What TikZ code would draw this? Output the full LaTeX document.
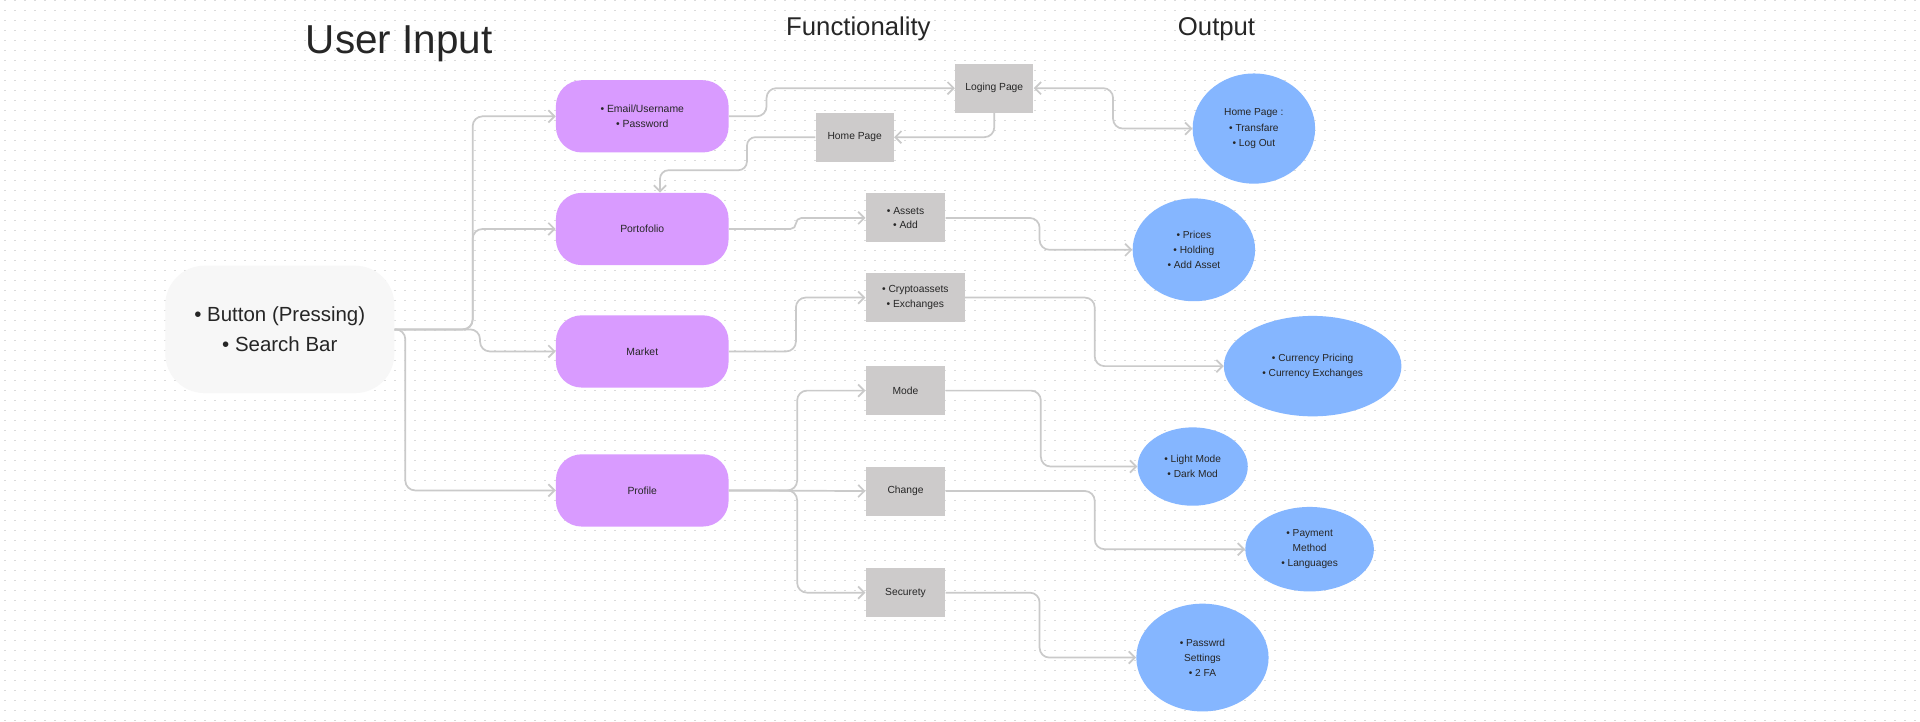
\documentclass[tikz,border=0pt]{standalone}
\usepackage{fontspec}
\setmainfont{Liberation Sans}
\usepackage{xcolor}
\usepackage{tikz}
\usetikzlibrary{calc}
\usetikzlibrary{arrows.meta}
\usetikzlibrary{shapes}
\usetikzlibrary{positioning}
\usetikzlibrary{shapes.geometric}
\definecolor{lilac}{HTML}{D99BFF}
\definecolor{sky}{HTML}{85B6FF}
\definecolor{boxgray}{HTML}{CDCBCB}
\definecolor{pale}{HTML}{F7F7F7}
\definecolor{wire}{HTML}{CACACA}
\definecolor{ink}{HTML}{262626}
\definecolor{dotgray}{HTML}{DBDBDB}
\tikzset{>={Straight Barb[length=5pt,width=10pt]}}
\tikzstyle{inp} = [rectangle, rounded corners=32pt, fill=pale, minimum width=187pt, minimum height=104pt, align=center, text=ink, font=\fontsize{16.7}{24.5}\selectfont]
\tikzstyle{feat} = [rectangle, rounded corners=21pt, fill=lilac, minimum width=141pt, minimum height=59pt, align=center, text=ink, font=\fontsize{8.5}{12}\selectfont]
\tikzstyle{page} = [rectangle, fill=boxgray, minimum width=65pt, minimum height=40pt, align=center, text=ink, font=\fontsize{8.4}{12}\selectfont]
\tikzstyle{res} = [ellipse, fill=sky, inner sep=0pt, align=center, text=ink, font=\fontsize{8.3}{12.3}\selectfont]
\tikzstyle{link} = [->, draw=wire, line width=1.4pt, rounded corners=8pt]
\tikzstyle{head} = [anchor=base, text=ink]

\begin{document}
\begin{tikzpicture}[x=1pt, y=-1pt]
\fill [white] (0,0) rectangle (1568,589.6);
\useasboundingbox (0,0) rectangle (1568,589.6);
\foreach \k in {0,...,72}
  \draw [dotgray, line width=0.7pt, dash pattern=on 1.6pt off 6.5667pt, dash phase=4.8667pt] (0,{\k*8.1667}) -- (1568,{\k*8.1667});

\node [head, font=\fontsize{33}{40}\selectfont] (title) at (326,43.5) {User Input};
\node [head, font=\fontsize{21}{25}\selectfont] (fhead) at (701,28.6) {Functionality};
\node [head, font=\fontsize{21}{25}\selectfont] (ohead) at (993.5,28.6) {Output};

\node [inp] (btn) at (228.5,269) {• Button (Pressing)\\• Search Bar};

\node [feat] (email) at (524.5,95) {• Email/Username\\• Password};
\node [feat] (port) at (524.5,187) {Portofolio};
\node [feat] (market) at (524.5,287) {Market};
\node [feat] (profile) at (524.5,400.5) {Profile};

\node [page, minimum width=64pt] (loging) at (812,72) {Loging Page};
\node [page, minimum width=64pt] (home) at (698,112) {Home Page};
\node [page] (assets) at (739.5,178) {• Assets\\• Add};
\node [page, minimum width=81pt] (crypto) at (747.5,243) {• Cryptoassets\\• Exchanges};
\node [page] (mode) at (739.5,319) {Mode};
\node [page] (change) at (739.5,401) {Change};
\node [page] (secure) at (739.5,484) {Securety};

\node [res, minimum width=100pt, minimum height=90pt] (hp) at (1024,105) {Home Page :\\• Transfare\\• Log Out};
\node [res, minimum width=100pt, minimum height=84pt] (prices) at (975,204) {• Prices\\• Holding\\• Add Asset};
\node [res, minimum width=145pt, minimum height=82pt] (curr) at (1072,299) {• Currency Pricing\\• Currency Exchanges};
\node [res, minimum width=90pt, minimum height=64pt] (light) at (974,381) {• Light Mode\\• Dark Mod};
\node [res, minimum width=105pt, minimum height=69pt] (pay) at (1069.5,448.5) {• Payment\\Method\\• Languages};
\node [res, minimum width=108pt, minimum height=88pt] (pass) at (982,537) {• Passwrd\\Settings\\• 2 FA};

\draw [link] (btn.east) -- (386,269) |- (email.west);
\draw [link] (btn.east) -- (386,269) |- (port.west);
\draw [link] (btn.east) -- (392,269) |- (market.west);
\draw [link] (btn.east) -- (331,269) |- (profile.west);

\draw [link] (email.east) -- (626,95) |- (loging.west);
\draw [link] (loging.south) |- (home.east);
\draw [link, rounded corners=7pt] (home.west) -- (610,112) -- (610,139) -- (539,139) -- ($(port.north)+(14.5,0)$);
\draw [link, <->] (loging.east) -- (909,72) |- (hp.west);

\draw [link, rounded corners=4.5pt] (port.east) -- (650,187) |- (assets.west);
\draw [link] (assets.east) -- (849,178) |- (prices.west);
\draw [link] (market.east) -- (650,287) |- (crypto.west);
\draw [link] (crypto.east) -- (894,243) |- (curr.west);

\draw [link] (profile.east) -- (651,400.5) |- (mode.west);
\draw [link] (profile.east) -- (change.west);
\draw [link] (profile.east) -- (651,400.5) |- (secure.west);
\draw [link] (mode.east) -- (850,319) |- (light.west);
\draw [link] (change.east) -- (894,401) |- (pay.west);
\draw [link] (secure.east) -- (849,484) |- (pass.west);
\end{tikzpicture}
\end{document}
